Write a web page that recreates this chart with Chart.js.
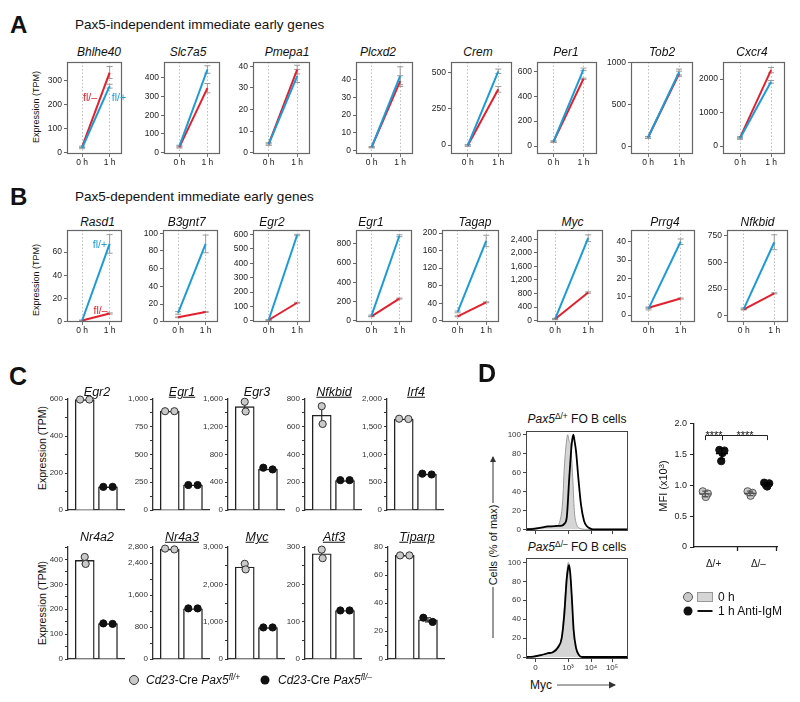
<!DOCTYPE html>
<html><head><meta charset="utf-8">
<script src="https://cdn.jsdelivr.net/npm/chart.js@4.4.1/dist/chart.umd.min.js"></script>
<style>
html,body{margin:0;padding:0;background:#fff}
body{width:800px;height:702px;position:relative;overflow:hidden;font-family:'Liberation Sans',Arial,Helvetica,sans-serif;color:#111}
.t{position:absolute;white-space:nowrap;line-height:1;transform:translate(-50%,-50%)}
.l{position:absolute;white-space:nowrap;line-height:1;transform:translate(0,-50%)}
.v{position:absolute;white-space:nowrap;line-height:1;transform:translate(-50%,-50%) rotate(-90deg)}
.i{font-style:italic}
sup{font-size:70%;vertical-align:0;position:relative;top:-0.45em}
</style></head><body>
<script>
// ---------------- DATA ----------------
const timeLabels = ['0 h', '1 h'];
// Panel A: Pax5-independent immediate early genes (TPM at 0 h, 1 h)
const genesA = ['Bhlhe40','Slc7a5','Pmepa1','Plcxd2','Crem','Per1','Tob2','Cxcr4'];
const aFlPlus   = [[20,278],[35,445],[4,35.5],[2,42],[-3,510],[35,615],[110,890],[230,1920]];
const aFlMinus  = [[25,335],[30,345],[4,38.5],[2,39],[-3,385],[35,540],[110,870],[250,2270]];
const aErrPlus  = [[3,8],[5,20],[0.5,3],[0.3,5],[5,15],[5,10],[10,35],[30,40]];
const aErrMinus = [[3,25],[5,25],[0.5,2],[0.3,3],[5,20],[5,5],[10,30],[30,80]];
const aTicks = [[0,100,200,300],[0,100,200,300,400],[0,10,20,30,40],[0,10,20,30,40],[0,250,500],[0,200,400,600],[0,500,1000],[0,1000,2000]];
const aRange = [[-5,379],[-7,485],[-0.6,42],[-1.8,49.7],[-62,574],[-64,674],[-87,1010],[-239,2513]];
// Panel B: Pax5-dependent immediate early genes
const genesB = ['Rasd1','B3gnt7','Egr2','Egr1','Tagap','Myc','Prrg4','Nfkbid'];
const bFlPlus   = [[1,67],[10,88],[5,597],[50,885],[20,182],[50,2430],[3.5,40],[65,690]];
const bFlMinus  = [[1,7],[5,11],[5,125],[45,230],[10,42],[50,830],[4,9],[60,210]];
const bErrPlus  = [[0.3,8],[1.5,10],[2,5],[8,10],[2,13],[20,100],[0.7,1.5],[8,70]];
const bErrMinus = [[0.2,0.5],[0.5,0.5],[1,3],[3,5],[1,1],[10,20],[0.3,0.3],[5,5]];
const bTicks = [[0,20,40,60],[0,20,40,60,80,100],[0,100,200,300,400,500,600],[0,200,400,600,800],[0,40,80,120,160,200],[0,400,800,1200,1600,2000,2400],[0,10,20,30,40],[0,250,500,750]];
const bRange = [[-0.3,79],[-0.3,103.7],[-9,632],[-14,945],[-3,207],[-39,2673],[-3.8,46.4],[-59,805]];
// Panel C: bar charts
const genesC = ['Egr2','Egr1','Egr3','Nfkbid','Irf4','Nr4a2','Nr4a3','Myc','Atf3','Tiparp'];
const cUnderline = [false,true,false,true,true,false,true,true,true,true];
const cBarPlus  = [597,890,1490,683,1640,396,2745,2465,282,74];
const cBarMinus = [125,225,590,212,645,142,1255,840,130,28];
const cDotsPlus  = [[597,597],[890,890],[1560,1420],[748,620],[1645,1640],[410,382],[2760,2740],[2550,2400],[293,270],[74,74]];
const cDotsMinus = [[125,125],[225,225],[610,585],[215,215],[655,640],[143,141],[1265,1265],[845,845],[130,130],[29.5,26.5]];
const cMax   = [600,1000,1600,800,2000,450,2800,3000,300,80];
const cMajor = [[0,200,400,600],[0,250,500,750,1000],[0,400,800,1200,1600],[0,200,400,600,800],[0,500,1000,1500,2000],[0,100,200,300,400],[0,800,1600,2400,2800],[0,1000,2000,3000],[0,100,200,300],[0,20,40,60,80]];
const cMinorStep = [100,125,200,100,250,50,400,500,50,10];
// Panel D: flow histograms [channel, % of max]
const histTickVals = [9.5,42,65,86];
const histTickLabels = ['0','10\u00B3','10\u2074','10\u2075'];
const h1Grey  = [[0,0.5],[6,1],[14,2],[22,2.5],[30,3],[34,9],[36.7,30],[38.3,65],[40.7,95],[41.7,100],[43,94],[44.7,88],[46.7,55],[48.3,20],[50.7,5],[54,1],[60,0],[102,0]];
const h1Black = [[0,0],[8,0.5],[14,1.5],[22,3],[30,3.5],[36,4],[38.5,6],[40.7,12],[43.3,55],[45.7,90],[47.3,100],[48.3,95],[50,83],[52.3,55],[55,26],[58,9],[60.7,3.5],[64,1],[67,0],[102,0]];
const h2Grey  = [[0,0],[8,1],[15,2],[22,4],[27,6],[32,12],[35.7,22],[38.3,53],[40.7,88],[42.3,100],[44,91],[45.7,63],[47.3,29],[50,8],[53.3,1.5],[57,0],[102,0]];
const h2Black = [[0,0],[8,0.5],[15,2],[22,4],[27,5],[32,10],[35.7,20],[38.3,45],[40.7,82],[42.3,95],[43,97],[44.3,88],[46,60],[47.7,28],[50,10],[53,2],[56,0],[102,0]];
// Panel D: MFI (x10^3)
const dGroups = ['\u0394/+','\u0394/\u2013'];
const d0h = [[0.90,0.865,0.81],[0.90,0.875,0.83]];
const d1h = [[1.57,1.56,1.52,1.39],[1.04,1.03,0.98,1.00]];
const dSig = ['****','****'];

// ---------------- LAYOUT / STYLE ----------------
const RED = '#e3202e', BLUE = '#1d9bd7';
const FONT = "'Liberation Sans', Arial, sans-serif";
Chart.defaults.font.family = FONT;
Chart.defaults.color = '#222';
Chart.defaults.animation = false;

const aFrames = [[67,122],[164,220],[253,310],[356,413],[451,512],[537,597],[631,693],[723,785]];
const aTitleX = [99,188,287,378,478,566,662,752];
const bFrames = [[67,122],[163,218],[253,310],[356,412],[442,499],[537,603],[631,695],[727,788]];
const bTitleX = [97.5,186.7,272,371,475,572.5,665,757.5];
const cAxisX = [68,153,228,305,387,68,153,228,305,388];

function el(cls, html, x, y, style) {
  const d = document.createElement('div');
  d.className = cls; d.innerHTML = html;
  d.style.left = x + 'px'; d.style.top = y + 'px';
  Object.assign(d.style, style || {});
  document.body.appendChild(d); return d;
}

const framePlugin = {
  id: 'frame',
  afterDraw(chart, args, opts) {
    const a = chart.chartArea, ctx = chart.ctx;
    ctx.save();
    ctx.strokeStyle = (opts && opts.color) || '#555';
    ctx.lineWidth = (opts && opts.width) || 1;
    ctx.strokeRect(Math.round(a.left) + 0.5, Math.round(a.top) + 0.5, Math.round(a.right - a.left) - 1, Math.round(a.bottom - a.top) - 1);
    ctx.restore();
  }
};
const errPlugin = {
  id: 'errbars',
  beforeDatasetsDraw(chart) {
    const ctx = chart.ctx, ys = chart.scales.y;
    chart.data.datasets.forEach((ds, i) => {
      if (!ds.errors) return;
      const meta = chart.getDatasetMeta(i);
      meta.data.forEach((pt, j) => {
        const v = ds.data[j].y, e = ds.errors[j];
        if (!e) return;
        const y1 = ys.getPixelForValue(v + e), y2 = ys.getPixelForValue(v - e);
        ctx.save(); ctx.strokeStyle = '#9a9a9a'; ctx.lineWidth = 1;
        ctx.beginPath();
        ctx.moveTo(pt.x, y1); ctx.lineTo(pt.x, y2);
        ctx.moveTo(pt.x - 3, y1); ctx.lineTo(pt.x + 3, y1);
        ctx.moveTo(pt.x - 3, y2); ctx.lineTo(pt.x + 3, y2);
        ctx.stroke(); ctx.restore();
      });
    });
  }
};
const rangePlugin = {
  id: 'rangebars',
  afterDatasetDraw(chart, args) {
    if (args.meta.type !== 'bar') return;
    const ctx = chart.ctx, xs = chart.scales.x, ys = chart.scales.y;
    const span = ys.max - ys.min;
    chart.data.datasets.forEach(ds => {
      if (ds.type !== 'scatter') return;
      const vals = ds.data.map(p => p.y);
      const mn = Math.min(...vals), mx = Math.max(...vals);
      if (mx - mn < span * 0.03) return;
      const x = xs.getPixelForValue(Math.round(ds.data[0].x));
      const y1 = ys.getPixelForValue(mx), y2 = ys.getPixelForValue(mn);
      ctx.save(); ctx.strokeStyle = '#222'; ctx.lineWidth = 1.1;
      ctx.beginPath(); ctx.moveTo(x, y1); ctx.lineTo(x, y2);
      ctx.moveTo(x - 3, y1); ctx.lineTo(x + 3, y1);
      ctx.moveTo(x - 3, y2); ctx.lineTo(x + 3, y2);
      ctx.stroke(); ctx.restore();
    });
  }
};

function makeChart(frame, pad, config) {
  const w = frame.r - frame.l + pad.l + pad.r;
  const h = frame.b - frame.t + pad.t + pad.b;
  const c = document.createElement('canvas');
  c.width = w; c.height = h;
  c.style.cssText = `position:absolute;left:${frame.l - pad.l}px;top:${frame.t - pad.t}px;width:${w}px;height:${h}px`;
  document.body.appendChild(c);
  const o = config.options;
  Object.assign(o, {responsive: false, maintainAspectRatio: false, animation: false, devicePixelRatio: 1});
  o.layout = {padding: {top: pad.t, right: pad.r, bottom: 0, left: 0}};
  o.plugins = Object.assign({legend: {display: false}, tooltip: {enabled: false}}, o.plugins || {});
  o.scales.x.afterFit = s => { s.height = pad.b; };
  o.scales.y.afterFit = s => { s.width = pad.l; };
  return new Chart(c, config);
}

// ---------------- PANELS A & B ----------------
function lineChart(frame, plus, minus, errP, errM, ticks, range, fmt) {
  return makeChart(frame, {l: 40, t: 8, r: 4, b: 16}, {
    type: 'line',
    data: {datasets: [
      {data: [{x: 0, y: plus[0]}, {x: 1, y: plus[1]}], borderColor: BLUE, borderWidth: 2, pointRadius: 0, errors: errP},
      {data: [{x: 0, y: minus[0]}, {x: 1, y: minus[1]}], borderColor: RED, borderWidth: 2, pointRadius: 0, errors: errM}
    ]},
    options: {
      plugins: {frame: {color: '#666', width: 1.2}},
      scales: {
        x: {type: 'linear', min: -0.55, max: 1.45,
            afterBuildTicks: s => { s.ticks = [{value: 0}, {value: 1}]; },
            ticks: {callback: v => timeLabels[v], font: {size: 8.5}, padding: 1, autoSkip: false, maxRotation: 0, color: '#222'},
            grid: {color: '#bdbdbd', lineWidth: 1, drawTicks: true, tickLength: 3, tickColor: '#777', tickBorderDash: [0, 0]},
            border: {display: false, dash: [1.5, 2]}},
        y: {min: range[0], max: range[1],
            afterBuildTicks: s => { s.ticks = ticks.map(v => ({value: v})); },
            ticks: {callback: fmt, font: {size: 8.5}, padding: 2, autoSkip: false, color: '#222'},
            grid: {drawOnChartArea: false, tickLength: 3, color: '#666'},
            border: {display: false}}
      }
    },
    plugins: [errPlugin, framePlugin]
  });
}

el('l', '<b>A</b>', 10, 25, {fontSize: '24px', fontWeight: 'bold'});
el('l', 'Pax5-independent immediate early genes', 75, 25, {fontSize: '13.5px'});
el('l', '<b>B</b>', 10, 197, {fontSize: '24px', fontWeight: 'bold'});
el('l', 'Pax5-dependent immediate early genes', 75, 197, {fontSize: '13.5px'});
el('v', 'Expression (TPM)', 36, 107, {fontSize: '9px'});
el('v', 'Expression (TPM)', 36, 280, {fontSize: '9px'});

genesA.forEach((g, i) => {
  el('t i', g, aTitleX[i], 52, {fontSize: '12px'});
  lineChart({l: aFrames[i][0], r: aFrames[i][1], t: 62, b: 154}, aFlPlus[i], aFlMinus[i], aErrPlus[i], aErrMinus[i], aTicks[i], aRange[i], v => String(v));
});
genesB.forEach((g, i) => {
  el('t i', g, bTitleX[i], 222, {fontSize: '12px'});
  lineChart({l: bFrames[i][0], r: bFrames[i][1], t: 230, b: 322}, bFlPlus[i], bFlMinus[i], bErrPlus[i], bErrMinus[i], bTicks[i], bRange[i], v => v.toLocaleString('en-US'));
});
el('t', 'fl/\u2013', 90, 97, {fontSize: '10.5px', color: RED});
el('t', 'fl/+', 119, 97, {fontSize: '10.5px', color: BLUE});
el('t', 'fl/+', 100, 244, {fontSize: '10.5px', color: BLUE});
el('t', 'fl/\u2013', 100.5, 310, {fontSize: '10.5px', color: RED});

// ---------------- PANEL C ----------------
el('l', '<b>C</b>', 9, 376, {fontSize: '25px', fontWeight: 'bold'});
el('v', 'Expression (TPM)', 42, 448, {fontSize: '10.5px'});
el('v', 'Expression (TPM)', 42, 603, {fontSize: '10.5px'});

function jitterFor(vals, max) {
  return Math.abs(vals[0] - vals[1]) < max * 0.04 ? [-0.2, 0.2] : [0, 0.04];
}
genesC.forEach((g, i) => {
  const top = i < 5 ? 399 : 547, bot = i < 5 ? 510 : 659;
  const ax = cAxisX[i];
  const titleY = i < 5 ? 392 : 537;
  el('t i', g, ax + 29, titleY, {fontSize: '12.5px', textDecoration: cUnderline[i] ? 'underline' : 'none'});
  const ticks = [];
  for (let v = 0; v <= cMax[i] + 1e-9; v += cMinorStep[i]) ticks.push(v);
  const jp = jitterFor(cDotsPlus[i], cMax[i]), jm = jitterFor(cDotsMinus[i], cMax[i]);
  makeChart({l: ax, r: ax + 57, t: top, b: bot}, {l: 40, t: 8, r: 4, b: 8}, {
    type: 'bar',
    data: {datasets: [
      {type: 'scatter', data: cDotsPlus[i].map((v, k) => ({x: 0 + jp[k], y: v})), backgroundColor: '#c9c9c9', borderColor: '#333', borderWidth: 1, pointRadius: 3.6, order: 0, clip: false},
      {type: 'scatter', data: cDotsMinus[i].map((v, k) => ({x: 1 + jm[k], y: v})), backgroundColor: '#111', borderColor: '#111', borderWidth: 1, pointRadius: 3.6, order: 1, clip: false},
      {type: 'bar', data: [{x: 0, y: cBarPlus[i]}, {x: 1, y: cBarMinus[i]}], backgroundColor: '#fff', borderColor: '#222', borderWidth: 1.4, barThickness: 19, order: 2}
    ]},
    options: {
      scales: {
        x: {type: 'linear', min: -0.72, max: 1.69, offset: false,
            ticks: {display: false}, grid: {display: false},
            border: {display: true, color: '#333', width: 1.3}},
        y: {min: 0, max: cMax[i],
            afterBuildTicks: s => { s.ticks = ticks.map(v => ({value: v})); },
            ticks: {callback: v => cMajor[i].includes(v) ? v.toLocaleString('en-US') : '', font: {size: 8}, padding: 2, autoSkip: false, color: '#333'},
            grid: {drawOnChartArea: false, tickLength: 3, color: '#333'},
            border: {display: true, color: '#333', width: 1.3}}
      }
    },
    plugins: [rangePlugin]
  });
});
// Panel C legend
el('t', '', 134, 680, {width: '8px', height: '8px', borderRadius: '50%', background: '#c9c9c9', border: '1px solid #333'});
el('l', '<span class="i">Cd23</span>-Cre <span class="i">Pax5</span><sup class="i">fl/+</sup>', 146, 680, {fontSize: '12px'});
el('t', '', 265, 680, {width: '9px', height: '9px', borderRadius: '50%', background: '#111'});
el('l', '<span class="i">Cd23</span>-Cre <span class="i">Pax5</span><sup class="i">fl/\u2013</sup>', 278, 680, {fontSize: '12px'});

// ---------------- PANEL D ----------------
el('l', '<b>D</b>', 478, 373, {fontSize: '25px', fontWeight: 'bold'});
el('t', '<span class="i">Pax5</span><sup>\u0394/+</sup> FO B cells', 577, 419, {fontSize: '12px'});
el('t', '<span class="i">Pax5</span><sup>\u0394/\u2013</sup> FO B cells', 577, 547, {fontSize: '12px'});
el('v', 'Cells (% of max)', 493, 545, {fontSize: '11px'});
el('l', 'Myc', 530, 685, {fontSize: '12px'});

function histChart(frame, grey, black, showLabels, yr) {
  return makeChart(frame, {l: 30, t: 6, r: 4, b: 14}, {
    type: 'line',
    data: {datasets: [
      {data: black.map(p => ({x: p[0], y: p[1]})), borderColor: '#000', borderWidth: 1.8, pointRadius: 0, fill: false, cubicInterpolationMode: 'monotone', order: 0},
      {data: grey.map(p => ({x: p[0], y: p[1]})), borderColor: '#9a9a9a', backgroundColor: '#d5d5d5', borderWidth: 1, pointRadius: 0, fill: 'origin', cubicInterpolationMode: 'monotone', order: 1}
    ]},
    options: {
      plugins: {frame: {color: '#444', width: 1}},
      scales: {
        x: {type: 'linear', min: 0, max: 102,
            afterBuildTicks: s => { s.ticks = histTickVals.map(v => ({value: v})); },
            ticks: {callback: (v, k) => showLabels ? histTickLabels[k] : '', font: {size: 8}, padding: 1, autoSkip: false, maxRotation: 0, color: '#333'},
            grid: {drawOnChartArea: false, tickLength: 3, color: '#444'}, border: {display: false}},
        y: {min: yr[0], max: yr[1],
            afterBuildTicks: s => { s.ticks = [0, 20, 40, 60, 80, 100].map(v => ({value: v})); },
            ticks: {font: {size: 8}, padding: 2, autoSkip: false, color: '#333'},
            grid: {drawOnChartArea: false, tickLength: 3, color: '#444'}, border: {display: false}}
      }
    },
    plugins: [framePlugin]
  });
}
histChart({l: 526, r: 628, t: 430, b: 531}, h1Grey, h1Black, false, [-1.8, 104.2]);
histChart({l: 526, r: 628, t: 557, b: 659}, h2Grey, h2Black, true, [-2.1, 104.9]);

// MFI dot plot
const dCenters = [1.18, 3.88];
const dOff = 0.5;
const dJitter = [-0.15, 0.15, 0.03, -0.04];
function dPoints(groups, sign) {
  const out = [];
  groups.forEach((g, gi) => g.forEach((v, k) => out.push({x: dCenters[gi] + sign * dOff + dJitter[k], y: v, g: gi})));
  return out;
}
const meanSdPlugin = {
  id: 'meansd',
  afterDatasetsDraw(chart) {
    const ctx = chart.ctx, xs = chart.scales.x, ys = chart.scales.y;
    chart.data.datasets.forEach(ds => {
      dCenters.forEach((c, gi) => {
        const vals = ds.data.filter(p => p.g === gi).map(p => p.y);
        const m = vals.reduce((a, b) => a + b, 0) / vals.length;
        const sd = Math.sqrt(vals.reduce((a, b) => a + (b - m) * (b - m), 0) / (vals.length - 1));
        const x = xs.getPixelForValue(c + ds.side * dOff);
        const ym = ys.getPixelForValue(m), y1 = ys.getPixelForValue(m + sd), y2 = ys.getPixelForValue(m - sd);
        ctx.save(); ctx.strokeStyle = ds.side > 0 ? '#000' : '#555'; ctx.lineWidth = 1.3;
        ctx.beginPath();
        ctx.moveTo(x - 6, ym); ctx.lineTo(x + 6, ym);
        ctx.moveTo(x, y1); ctx.lineTo(x, y2);
        ctx.moveTo(x - 3, y1); ctx.lineTo(x + 3, y1);
        ctx.moveTo(x - 3, y2); ctx.lineTo(x + 3, y2);
        ctx.stroke(); ctx.restore();
      });
    });
  }
};
const bracketPlugin = {
  id: 'brackets',
  afterDraw(chart, args, o) {
    const ctx = chart.ctx, xs = chart.scales.x, ys = chart.scales.y;
    const pairs = [[dCenters[0] - dOff, dCenters[0] + dOff], [dCenters[0] + dOff, dCenters[1] + dOff]];
    ctx.save(); ctx.strokeStyle = '#222'; ctx.lineWidth = 1; ctx.fillStyle = '#111';
    ctx.font = '11px ' + FONT; ctx.textAlign = 'center'; ctx.textBaseline = 'alphabetic';
    pairs.forEach((p, k) => {
      const x1 = Math.round(xs.getPixelForValue(p[0])) + 0.5, x2 = Math.round(xs.getPixelForValue(p[1])) + 0.5;
      const y = Math.round(ys.getPixelForValue(1.81)) + 0.5, yd = ys.getPixelForValue(1.73);
      ctx.beginPath(); ctx.moveTo(x1, yd); ctx.lineTo(x1, y); ctx.lineTo(x2, y); ctx.lineTo(x2, yd); ctx.stroke();
      ctx.fillText(dSig[k], (x1 + x2) / 2, y + 3);
    });
    const yb = ys.getPixelForValue(0);
    [2.63, 5].forEach(v => {
      const x = Math.round(xs.getPixelForValue(v)) - 0.5;
      ctx.beginPath(); ctx.lineWidth = 1.3; ctx.moveTo(x, yb); ctx.lineTo(x, yb + 4); ctx.stroke();
    });
    ctx.restore();
  }
};
makeChart({l: 694, r: 777, t: 423, b: 547}, {l: 30, t: 8, r: 8, b: 26}, {
  type: 'scatter',
  data: {datasets: [
    {data: dPoints(d1h, 1), side: 1, backgroundColor: '#111', borderColor: '#111', borderWidth: 1, pointRadius: 3.7, order: 0, clip: false},
    {data: dPoints(d0h, -1), side: -1, backgroundColor: '#c9c9c9', borderColor: '#555', borderWidth: 1, pointRadius: 3.7, order: 1, clip: false}
  ]},
  options: {
    scales: {
      x: {type: 'linear', min: 0, max: 5,
          afterBuildTicks: s => { s.ticks = dCenters.map(v => ({value: v})); },
          ticks: {callback: (v, k) => dGroups[k], font: {size: 10}, padding: 3, autoSkip: false, maxRotation: 0, color: '#222'},
          grid: {display: false}, border: {display: true, color: '#222', width: 1.3}},
      y: {min: 0, max: 2,
          afterBuildTicks: s => { s.ticks = [0, 0.5, 1, 1.5, 2].map(v => ({value: v})); },
          ticks: {callback: v => v === 0 ? '0' : v.toFixed(1), font: {size: 9}, padding: 3, autoSkip: false, color: '#222'},
          grid: {drawOnChartArea: false, tickLength: 4, color: '#222'}, border: {display: true, color: '#222', width: 1.3}}
    }
  },
  plugins: [meanSdPlugin, bracketPlugin]
});
el('v', 'MFI (x10<sup>3</sup>)', 663, 486, {fontSize: '11px'});
// legend D
el('t', '', 688, 597, {width: '8px', height: '8px', borderRadius: '50%', background: '#c9c9c9', border: '1px solid #555'});
el('t', '', 704.5, 597, {width: '14px', height: '8px', background: '#d5d5d5', border: '1px solid #999'});
el('l', '0 h', 718, 597, {fontSize: '12px'});
el('t', '', 688, 611, {width: '9px', height: '9px', borderRadius: '50%', background: '#111'});
el('t', '', 704.5, 611, {width: '15px', height: '2px', background: '#111'});
el('l', '1 h Anti-IgM', 718, 611, {fontSize: '12px'});
</script>
<svg width="800" height="702" style="position:absolute;left:0;top:0;pointer-events:none">
  <defs><marker id="ah" markerWidth="6" markerHeight="6" refX="5" refY="3" orient="auto"><path d="M0,0 L6,3 L0,6 z" fill="#333"/></marker></defs>
  <line x1="493" y1="503" x2="493" y2="457" stroke="#333" stroke-width="1" marker-end="url(#ah)"/>
  <line x1="493" y1="587" x2="493" y2="638" stroke="#333" stroke-width="1"/>
  <line x1="557" y1="685" x2="615" y2="685" stroke="#555" stroke-width="1.2" marker-end="url(#ah)"/>
</svg>
</body></html>
